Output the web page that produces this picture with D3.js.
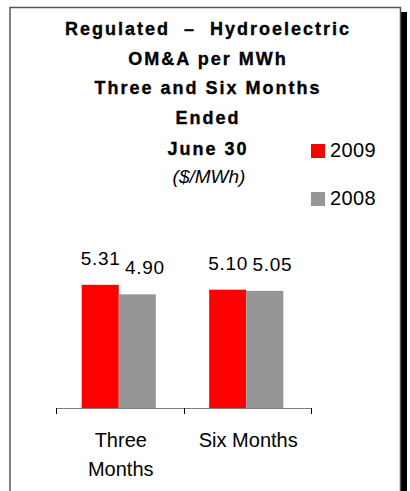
<!DOCTYPE html>
<html>
<head>
<meta charset="utf-8">
<script src="https://cdn.jsdelivr.net/npm/d3@7"></script>
<style>
  html, body { margin: 0; padding: 0; background: #fff; }
  svg { display: block; font-family: Arial, "Liberation Sans", sans-serif; }
  .ttl { white-space: pre; }
</style>
</head>
<body>
<svg id="chart" width="410" height="491"></svg>
<script>
const categories = [["Three", "Months"], ["Six Months"]];
const categoryKeys = ["Three Months", "Six Months"];
const seriesNames = ["2009", "2008"];
const values2009 = [5.31, 5.10];
const values2008 = [4.90, 5.05];
const valueLabels2009 = ["5.31", "5.10"];
const valueLabels2008 = ["4.90", "5.05"];
const titleLines = ["Regulated  \u2013  Hydroelectric", "OM&A per MWh", "Three and Six Months", "Ended", "June 30"];
const subtitle = "($/MWh)";
const colors = ["#FF0000", "#969696"];

const svg = d3.select("#chart");

// frame with shadow
svg.append("rect").attr("x", 400).attr("y", 12).attr("width", 7).attr("height", 500).attr("fill", "#000");
svg.append("rect").attr("x", 10).attr("y", 7.5).attr("width", 390.5).attr("height", 500)
  .attr("fill", "#fff").attr("stroke", "#555").attr("stroke-width", 1.5);

// title
const titleBaselines = [35, 65, 94, 124, 155];
titleLines.forEach((t, i) => {
  svg.append("text").attr("class", "ttl").attr("x", 208).attr("y", titleBaselines[i])
    .attr("text-anchor", "middle").attr("font-weight", "bold")
    .attr("font-size", 18).attr("letter-spacing", 2.0)
    .attr("fill", "#000").attr("stroke", "#000").attr("stroke-width", 0.35).text(t);
});
svg.append("text").attr("x", 209).attr("y", 183).attr("text-anchor", "middle")
  .attr("font-style", "italic").attr("font-size", 19).attr("fill", "#000").text(subtitle);

// scales
const x0 = d3.scaleBand().domain(categoryKeys).range([56, 311]).paddingInner(0).paddingOuter(0);
const x1 = d3.scaleBand().domain(seriesNames).range([0, x0.bandwidth()]).paddingInner(0).paddingOuter(0.72);
const y = d3.scaleLinear().domain([0, 7]).range([408, 245.6]);

const data = categoryKeys.map((c, i) => ({
  cat: c,
  vals: [
    { s: seriesNames[0], v: values2009[i], lab: valueLabels2009[i], dx: 0 },
    { s: seriesNames[1], v: values2008[i], lab: valueLabels2008[i], dx: 7 }
  ]
}));

const g = svg.append("g");
const groups = g.selectAll("g.cat").data(data).join("g")
  .attr("transform", d => `translate(${x0(d.cat) - 1},0)`);

groups.selectAll("rect").data(d => d.vals).join("rect")
  .attr("x", d => x1(d.s))
  .attr("width", x1.bandwidth())
  .attr("y", d => y(d.v))
  .attr("height", d => y(0) - y(d.v))
  .attr("fill", (d, i) => colors[i]);

groups.selectAll("text.val").data(d => d.vals).join("text")
  .attr("class", "val")
  .attr("x", d => x1(d.s) + x1.bandwidth() / 2 + d.dx + 0.5)
  .attr("y", d => y(d.v) - 20)
  .attr("text-anchor", "middle")
  .attr("font-size", 19).attr("letter-spacing", 0.7).attr("fill", "#000")
  .text(d => d.lab);

// axis
const axis = d3.axisBottom(x0).tickSize(6).tickFormat("");
const axG = svg.append("g").attr("transform", "translate(0,408)").call(axis);
axG.select(".domain").attr("stroke", "#808080").attr("d", "M56,0.5H311");
axG.selectAll(".tick").remove();
const tickPositions = categoryKeys.map(c => x0(c)).concat([x0.range()[1]]);
axG.selectAll("line.tk").data(tickPositions).join("line").attr("class", "tk")
  .attr("x1", d => Math.round(d) + 0.5).attr("x2", d => Math.round(d) + 0.5)
  .attr("y1", 0).attr("y2", 6).attr("stroke", "#000");

// category labels
categories.forEach((lines, i) => {
  const cx = x0(categoryKeys[i]) + x0.bandwidth() / 2;
  lines.forEach((ln, j) => {
    svg.append("text").attr("x", cx + 1).attr("y", 447 + j * 29)
      .attr("text-anchor", "middle").attr("font-size", 20).attr("fill", "#000").text(ln);
  });
});

// legend
const legendY = [144, 192];
seriesNames.forEach((s, i) => {
  svg.append("rect").attr("x", 311).attr("y", legendY[i]).attr("width", 14).attr("height", 14).attr("fill", colors[i]);
  svg.append("text").attr("x", 330).attr("y", legendY[i] + 13).attr("font-size", 20)
    .attr("letter-spacing", 0.4).attr("fill", "#000").text(s);
});
</script>
</body>
</html>
